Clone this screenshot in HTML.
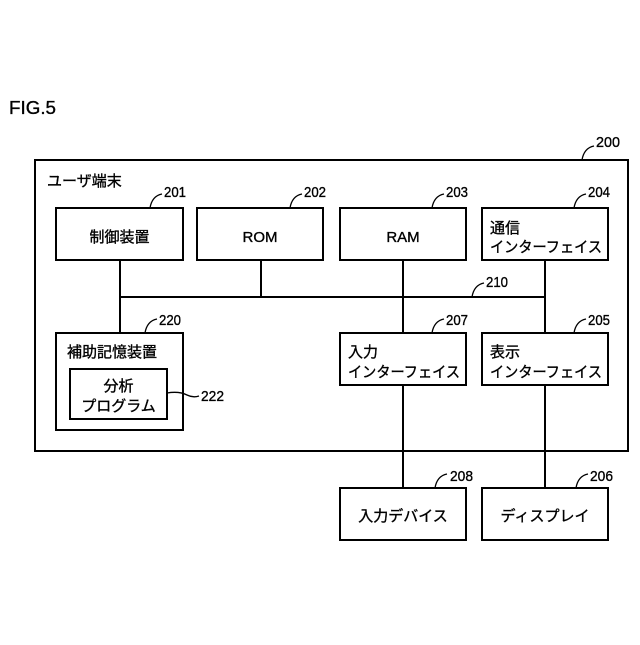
<!DOCTYPE html>
<html><head><meta charset="utf-8"><style>
body{margin:0;background:#fff}
svg text{font-family:"Liberation Sans","Noto Sans CJK JP",sans-serif;fill:#000;stroke:#000;stroke-width:0.35}
</style></head><body>
<svg width="640" height="640" viewBox="0 0 640 640" xmlns="http://www.w3.org/2000/svg">
<g fill="none" stroke="#000" stroke-width="2">
<rect x="35" y="160" width="593" height="291"/>
<rect x="56" y="208" width="127" height="52"/>
<rect x="197" y="208" width="126" height="52"/>
<rect x="340" y="208" width="126" height="52"/>
<rect x="482" y="208" width="126" height="52"/>
<rect x="56" y="333" width="127" height="97"/>
<rect x="70" y="369" width="97" height="50"/>
<rect x="340" y="333" width="126" height="52"/>
<rect x="482" y="333" width="126" height="52"/>
<rect x="340" y="488" width="126" height="52"/>
<rect x="482" y="488" width="126" height="52"/>
<path d="M120 260V333M261 260V297M403 260V333M545 260V333M120 297H545M403 385V488M545 385V488"/>
</g>
<g fill="none" stroke="#000" stroke-width="1.3">
<path d="M582 160q2-12 12-14"/>
<path d="M150 208q2-12 12-14"/>
<path d="M290 208q2-12 12-14"/>
<path d="M432 208q2-12 12-14"/>
<path d="M574 208q2-12 12-14"/>
<path d="M472 297q2-12 12-14"/>
<path d="M145 333q2-12 12-14"/>
<path d="M432 333q2-12 12-14"/>
<path d="M574 333q2-12 12-14"/>
<path d="M167 393q12-2 20 2q6 3 12 1"/>
<path d="M435 488q2-12 12-14"/>
<path d="M576 488q2-12 12-14"/>
</g>
<g font-size="15">
<text x="9" y="114" font-size="18" textLength="47" lengthAdjust="spacingAndGlyphs">FIG.5</text>
<text x="596" y="147" textLength="24" lengthAdjust="spacingAndGlyphs">200</text>
<text x="164" y="197" textLength="22" lengthAdjust="spacingAndGlyphs">201</text>
<text x="304" y="197" textLength="22" lengthAdjust="spacingAndGlyphs">202</text>
<text x="446" y="197" textLength="22" lengthAdjust="spacingAndGlyphs">203</text>
<text x="588" y="197" textLength="22" lengthAdjust="spacingAndGlyphs">204</text>
<text x="486" y="287" textLength="22" lengthAdjust="spacingAndGlyphs">210</text>
<text x="159" y="325" textLength="22" lengthAdjust="spacingAndGlyphs">220</text>
<text x="446" y="325" textLength="22" lengthAdjust="spacingAndGlyphs">207</text>
<text x="588" y="325" textLength="22" lengthAdjust="spacingAndGlyphs">205</text>
<text x="201" y="401" textLength="23" lengthAdjust="spacingAndGlyphs">222</text>
<text x="450" y="481" textLength="23" lengthAdjust="spacingAndGlyphs">208</text>
<text x="590" y="481" textLength="23" lengthAdjust="spacingAndGlyphs">206</text>
<text x="47" y="186">ユーザ端末</text>
<text x="119.5" y="242" text-anchor="middle">制御装置</text>
<text x="260" y="242" text-anchor="middle">ROM</text>
<text x="403" y="242" text-anchor="middle">RAM</text>
<text x="490" y="233">通信</text>
<text x="490" y="252" textLength="112" lengthAdjust="spacingAndGlyphs">インターフェイス</text>
<text x="67" y="357">補助記憶装置</text>
<text x="118.5" y="391" text-anchor="middle">分析</text>
<text x="118.5" y="411" text-anchor="middle">プログラム</text>
<text x="348" y="357">入力</text>
<text x="348" y="377" textLength="112" lengthAdjust="spacingAndGlyphs">インターフェイス</text>
<text x="490" y="357">表示</text>
<text x="490" y="377" textLength="112" lengthAdjust="spacingAndGlyphs">インターフェイス</text>
<text x="403" y="521" text-anchor="middle">入力デバイス</text>
<text x="545" y="521" text-anchor="middle">ディスプレイ</text>
</g>
</svg>
</body></html>
